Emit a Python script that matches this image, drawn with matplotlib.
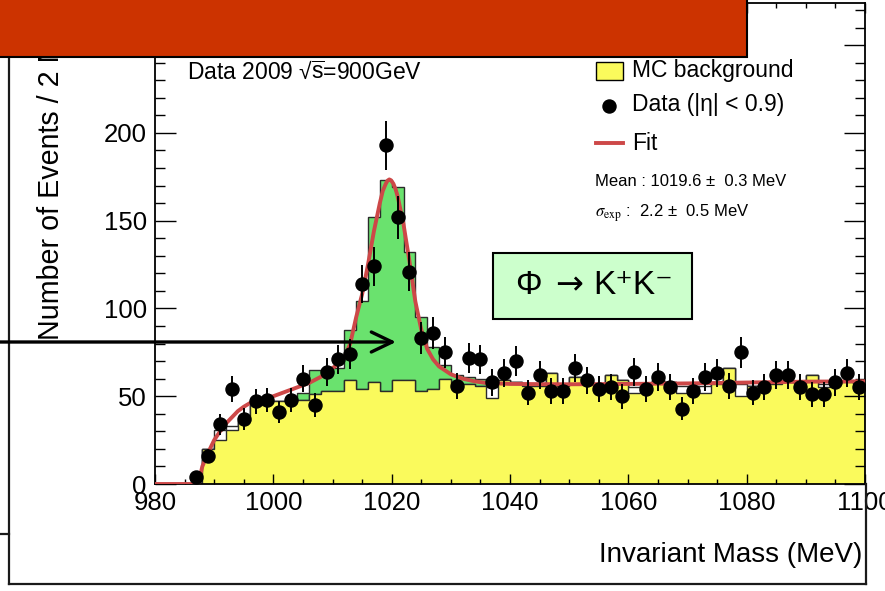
import numpy as np
import matplotlib
matplotlib.use("Agg")
import matplotlib.pyplot as plt
from matplotlib.patches import Rectangle, FancyArrowPatch, ArrowStyle
from matplotlib.lines import Line2D
from matplotlib.ticker import MultipleLocator

plt.rcParams['font.family'] = ['Liberation Sans', 'DejaVu Sans']
plt.rcParams['mathtext.fontset'] = 'custom'
plt.rcParams['mathtext.rm'] = 'Liberation Sans'
plt.rcParams['mathtext.it'] = 'Liberation Sans:italic'
plt.rcParams['mathtext.bf'] = 'Liberation Sans:bold'

# ---- histogram binning (MeV) ----
MASS_MIN, MASS_MAX, BIN_WIDTH = 980, 1100, 2

# ---- observed K+K- candidates per 2 MeV bin (980 ... 1100) ----
data_counts = [
    0, 0, 0, 4, 16, 34, 54, 37, 47, 48,
    41, 48, 60, 45, 64, 71, 74, 114, 124, 193,
    152, 121, 83, 86, 75, 56, 72, 71, 58, 63,
    70, 52, 62, 53, 53, 66, 59, 54, 55, 50,
    64, 54, 61, 55, 43, 53, 61, 63, 56, 75,
    52, 55, 62, 62, 55, 51, 51, 58, 63, 55,
]

# ---- MC background (yellow) ----
mc_background = [
    0, 0, 0, 0, 20, 25, 31, 36, 45, 46,
    47, 47, 48, 51, 53, 53, 59, 54, 58, 53,
    59, 59, 53, 54, 60, 57, 57, 56, 49, 59,
    58, 56, 56, 63, 56, 61, 57, 56, 62, 59,
    52, 56, 59, 58, 52, 56, 52, 57, 66, 50,
    56, 57, 57, 58, 57, 62, 55, 57, 58, 57,
]

# ---- alternative MC background sample (open histogram) ----
mc_background_alt = [
    0, 0, 0, 0, 20, 31, 33, 36, 45, 46,
    47, 47, 48, 51, 53, 53, 59, 54, 58, 53,
    59, 59, 53, 54, 60, 57, 57, 56, 55, 59,
    58, 56, 56, 63, 56, 61, 57, 56, 62, 59,
    55, 56, 59, 58, 56, 56, 56, 57, 66, 57,
    56, 57, 57, 58, 57, 62, 57, 57, 58, 57,
]

# ---- MC signal + background (green) ----
mc_total = [
    0, 0, 0, 0, 20, 25, 31, 36, 45, 46,
    47, 48, 52, 65, 64, 66, 88, 104, 152, 173,
    169, 132, 95, 78, 68, 62, 61, 60, 56, 59,
    58, 56, 56, 63, 56, 61, 57, 56, 62, 59,
    52, 56, 59, 58, 52, 56, 52, 57, 66, 50,
    56, 57, 57, 58, 57, 62, 55, 57, 58, 57,
]

# ---- fitted line shape (mass in MeV, events / 2 MeV) ----
fit_mass = [980, 987.3, 988, 989, 990, 991, 992, 993, 994, 995, 996, 997, 998,
            1000, 1002, 1004, 1006, 1008, 1010, 1011, 1012, 1013, 1014, 1015,
            1016, 1017, 1018, 1018.5, 1019, 1019.3, 1019.6, 1019.9, 1020.3,
            1020.7, 1021, 1022, 1023, 1024, 1025, 1026, 1027, 1028, 1030, 1032,
            1034, 1036, 1040, 1050, 1060, 1070, 1080, 1090, 1100]
fit_value = [0, 0, 10, 18, 25, 30, 34.5, 38, 41.5, 44, 46, 47.5, 48.5,
             50, 52.5, 55, 57.5, 61, 66, 68.5, 72, 80, 95, 108,
             125, 144, 160, 167, 171, 172.8, 173.5, 173, 171,
             167.5, 164, 148, 127, 104, 88, 77, 71, 67, 62.5, 60,
             58.5, 57.5, 57, 56.8, 57, 57.3, 57.8, 58.3, 58.5]

W, H = 885, 591


def fx(px):
    return px / W


def fy(py):
    return 1 - py / H


YELLOW = '#FAFA5C'
GREEN = '#6AE26E'
RED = '#CD4848'
EDGE = '#2a2a2a'

fig = plt.figure(figsize=(W / 100, H / 100), dpi=100)
fig.patch.set_facecolor('white')

ax = fig.add_axes([fx(155), fy(484), (865 - 155) / W, (484 - 3) / H])

edges = np.arange(MASS_MIN, MASS_MAX + BIN_WIDTH, BIN_WIDTH)
centers = 0.5 * (edges[:-1] + edges[1:])
counts = np.array(data_counts, dtype=float)

ax.stairs(mc_total, edges, fill=True, color=GREEN, zorder=1.0)
ax.stairs(mc_total, edges, color=EDGE, lw=1.0, zorder=1.05)
ax.stairs(mc_background_alt, edges, fill=True, color='white', zorder=1.1)
ax.stairs(mc_background_alt, edges, color=EDGE, lw=1.0, zorder=1.15)
ax.stairs(mc_background, edges, fill=True, color=YELLOW, zorder=1.2)
ax.stairs(mc_background, edges, color=EDGE, lw=1.0, zorder=1.25)

ax.plot(fit_mass, fit_value, color=RED, lw=2.8, zorder=3,
        solid_joinstyle='round', solid_capstyle='round')

mask = counts > 0
ax.errorbar(centers[mask], counts[mask], yerr=np.sqrt(counts[mask]),
            fmt='o', color='black', ms=9.4, elinewidth=1.4, capsize=0,
            zorder=4)

ax.set_xlim(MASS_MIN, MASS_MAX)
ax.set_ylim(0, 274)
ax.xaxis.set_major_locator(MultipleLocator(20))
ax.xaxis.set_minor_locator(MultipleLocator(5))
ax.yaxis.set_major_locator(MultipleLocator(50))
ax.yaxis.set_minor_locator(MultipleLocator(10))
ax.tick_params(which='both', direction='in', top=True, right=True,
               width=1.0, color='black')
ax.tick_params(axis='x', which='major', length=7.5, labelsize=18.5, pad=5)
ax.tick_params(axis='x', which='minor', length=3.8)
ax.tick_params(axis='y', which='major', length=15, labelsize=18.5, pad=6)
ax.tick_params(axis='y', which='minor', length=7.5)
for s in ax.spines.values():
    s.set_linewidth(1.3)

# axis titles
fig.text(fx(51), fy(3), 'Number of Events / 2 MeV', rotation=90,
         ha='center', va='top', fontsize=20.6)
fig.text(fx(862), fy(555), 'Invariant Mass (MeV)', ha='right', va='center',
         fontsize=20)

# run label
fig.text(fx(187), fy(72), r'Data 2009 √$\overline{\mathrm{s}}$=900GeV',
         ha='left', va='center', fontsize=16.5)

# legend
fig.add_artist(Rectangle((fx(596), fy(80)), (623 - 596) / W, (80 - 62) / H,
                         transform=fig.transFigure, facecolor=YELLOW,
                         edgecolor='black', lw=1.0, zorder=5))
fig.add_artist(Line2D([fx(609)], [fy(106)], marker='o', ms=9.4,
                      color='black', transform=fig.transFigure, zorder=5))
fig.add_artist(Line2D([fx(596), fx(623)], [fy(143), fy(143)], color=RED,
                      lw=2.8, transform=fig.transFigure, zorder=5))
fig.text(fx(632), fy(70), 'MC background', ha='left', va='center',
         fontsize=16.5)
fig.text(fx(632), fy(105), 'Data (|η| < 0.9)', ha='left', va='center',
         fontsize=16.5)
fig.text(fx(632), fy(143), 'Fit', ha='left', va='center', fontsize=16.5)
fig.text(fx(595), fy(182), 'Mean : 1019.6 ±  0.3 MeV', ha='left',
         va='center', fontsize=12)
fig.text(fx(595), fy(213), r'$\sigma_{\rm exp}$ :  2.2 ±  0.5 MeV',
         ha='left', va='center', fontsize=12, math_fontfamily='stix')

# decay channel box
fig.add_artist(Rectangle((fx(493), fy(319)), (692 - 493) / W, (319 - 253) / H,
                         transform=fig.transFigure, facecolor='#CCFFCC',
                         edgecolor='black', lw=1.5, zorder=5))
fig.text(fx(528), fy(286), 'Φ', ha='center', va='center',
         fontsize=24, zorder=6)
fig.text(fx(569), fy(285), '→', ha='center', va='center',
         fontsize=24, family=['DejaVu Sans'], zorder=6)
fig.text(fx(593), fy(286), 'K⁺K⁻', ha='left', va='center',
         fontsize=24, zorder=6)

# pointer arrow into the signal region
fig.add_artist(FancyArrowPatch((fx(-5), fy(342)), (fx(396), fy(342)),
                               transform=fig.transFigure,
                               arrowstyle=ArrowStyle('->', head_length=15,
                                                     head_width=7.2),
                               mutation_scale=1, lw=2.4, color='black',
                               shrinkA=0, shrinkB=0, zorder=7))

# slide frame
frame_kw = dict(color='#1a1a1a', lw=1.6, transform=fig.transFigure, zorder=4)
fig.add_artist(Line2D([fx(9), fx(9)], [fy(57), fy(584)], **frame_kw))
fig.add_artist(Line2D([fx(9), fx(866)], [fy(584), fy(584)], **frame_kw))
fig.add_artist(Line2D([fx(866), fx(866)], [fy(484), fy(584)], **frame_kw))
fig.add_artist(Line2D([fx(0), fx(9)], [fy(534), fy(534)], **frame_kw))

# title banner
fig.add_artist(Rectangle((fx(-10), fy(57)), 757 / W, 67 / H,
                         transform=fig.transFigure, facecolor='#CC3300',
                         edgecolor='black', lw=1.5, zorder=10))

fig.savefig('out.png', dpi=100)
